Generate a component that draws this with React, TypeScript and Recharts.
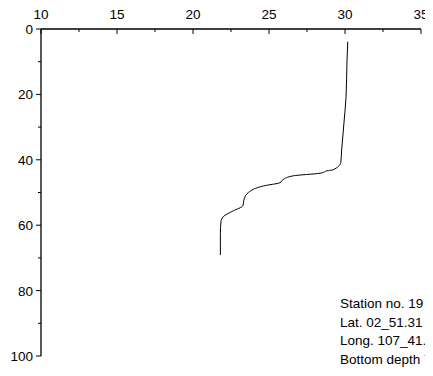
import React from "react";
import { ComposedChart, Line, XAxis, YAxis, Customized } from "recharts";

const temperature = [30.18, 30.13, 30.07, 29.93, 29.78, 29.72, 29.19, 28.9, 28.36, 26.6, 25.94, 25.72, 24.63, 23.64, 23.38, 23.27, 22.65, 21.99, 21.84, 21.8, 21.8];
const depth = [3.9, 10, 20.7, 28.8, 37, 40.9, 43.1, 43.3, 44.1, 44.9, 46, 47, 48, 50, 51.8, 54.1, 55.6, 57.4, 58.9, 62.5, 69.1];
const xTicks = [10, 12.5, 15, 17.5, 20, 22.5, 25, 27.5, 30, 32.5, 35];
const yTicks = [0, 10, 20, 30, 40, 50, 60, 70, 80, 90, 100];
const stationInfo = ["Station no. 19", "Lat. 02_51.31 N", "Long. 107_41.25 E", "Bottom depth 72 m"];

const data = temperature.map((t, i) => ({ temp: t, depth: depth[i] }));

const W = 425;
const H = 368;
const LEFT = 33;
const TOP = 21;
const RIGHT = 12;
const BOTTOM = 20;
const FONT = "'Liberation Sans', Arial, sans-serif";
const FS = 13.5;

const XTick = (props: any) => {
  const { x, payload } = props;
  const v = payload.value;
  const major = v % 5 === 0;
  return (
    <g>
      <line x1={x} y1={TOP} x2={x} y2={TOP + (major ? 5 : 3)} stroke="#000" strokeWidth={1} />
      {major && (
        <text x={x} y={TOP - 10} textAnchor="middle" fontSize={FS} fontFamily={FONT} fill="#000">
          {v}
        </text>
      )}
    </g>
  );
};

const YTick = (props: any) => {
  const { y, payload } = props;
  const v = payload.value;
  const major = v % 20 === 0;
  return (
    <g>
      <line x1={LEFT} y1={y} x2={LEFT - (major ? 5 : 3)} y2={y} stroke="#000" strokeWidth={1} />
      {major && (
        <text x={LEFT - 8} y={y + 5} textAnchor="end" fontSize={FS} fontFamily={FONT} fill="#000">
          {v}
        </text>
      )}
    </g>
  );
};

const Info = () => (
  <g>
    {stationInfo.map((s, i) => (
      <text key={i} x={332} y={300 + i * 18.7} fontSize={FS} fontFamily={FONT} fill="#000">
        {s}
      </text>
    ))}
  </g>
);

export default function App() {
  return (
    <div style={{ width: W, height: H, overflow: "hidden" }}>
      <ComposedChart width={W} height={H} data={data} margin={{ top: 0, left: 0, right: RIGHT, bottom: BOTTOM }}>
        <XAxis
          xAxisId="t"
          orientation="top"
          type="number"
          dataKey="temp"
          domain={[10, 35]}
          ticks={xTicks}
          height={TOP}
          axisLine={{ stroke: "#000", strokeWidth: 1.3 }}
          tickLine={false}
          tick={<XTick />}
          interval={0}
          allowDataOverflow
        />
        <YAxis
          yAxisId="d"
          type="number"
          dataKey="depth"
          domain={[0, 100]}
          reversed
          ticks={yTicks}
          width={LEFT}
          axisLine={{ stroke: "#000", strokeWidth: 1.3 }}
          tickLine={false}
          tick={<YTick />}
          interval={0}
          allowDataOverflow
        />
        <Line
          xAxisId="t"
          yAxisId="d"
          dataKey="depth"
          type="monotoneY"
          stroke="#000"
          strokeWidth={1}
          dot={false}
          isAnimationActive={false}
        />
        <Customized component={<Info />} />
      </ComposedChart>
    </div>
  );
}
